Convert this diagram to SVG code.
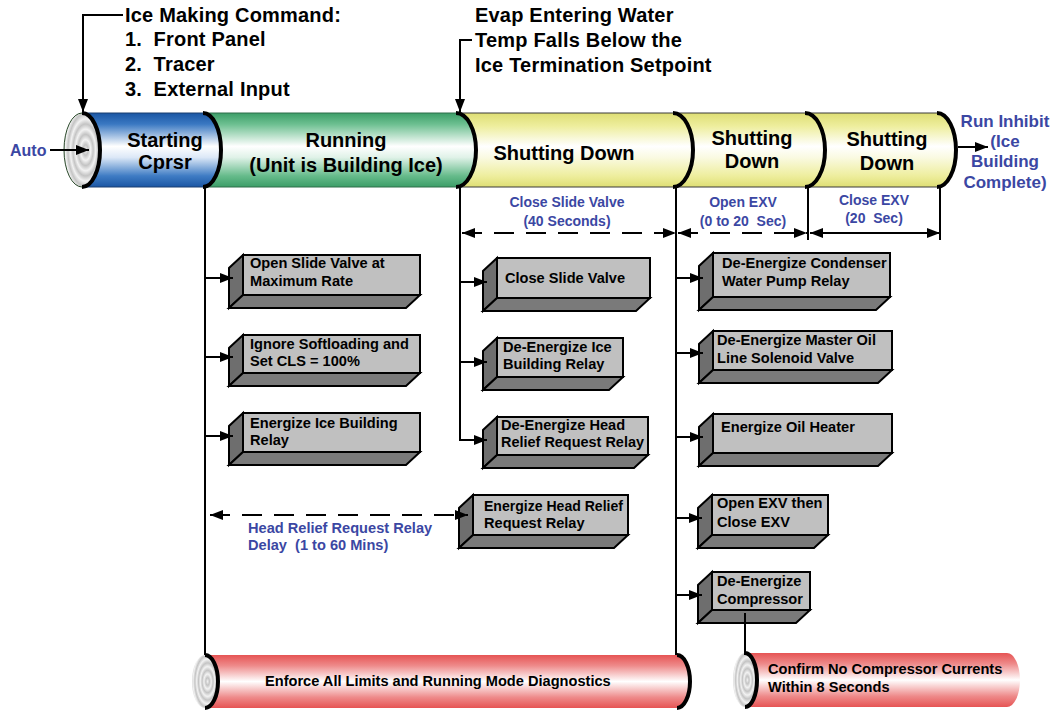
<svg xmlns="http://www.w3.org/2000/svg" width="1055" height="710" viewBox="0 0 1055 710">
<style>
text{font-family:"Liberation Sans",Arial,sans-serif;font-weight:bold;fill:#000;white-space:pre}
.hdr{font-size:20px;letter-spacing:0.2px}
.pl{font-size:20px;text-anchor:middle}
.bt{font-size:14.6px}
.blue{fill:#3b47a3}
.bl{font-size:14px;fill:#3b47a3;text-anchor:middle}
.front{fill:#c0c0c0;stroke:#000;stroke-width:2}
.side{fill:#6e6e6e;stroke:#000;stroke-width:2;stroke-linejoin:miter}
.bot{fill:#7a7a7a;stroke:#000;stroke-width:2;stroke-linejoin:miter}
.ln{fill:none;stroke:#000;stroke-width:2}
.ar{fill:none;stroke:#000;stroke-width:2;marker-end:url(#ah)}
.dd{fill:none;stroke:#000;stroke-width:2;stroke-dasharray:20 12;marker-start:url(#ah);marker-end:url(#ah)}
.sd{fill:none;stroke:#000;stroke-width:2;marker-start:url(#ah);marker-end:url(#ah)}
.arc{fill:none;stroke:#000;stroke-width:4}
.edge{stroke:#3a3a3a;stroke-width:1}
</style>
<defs>
<marker id="ah" markerUnits="userSpaceOnUse" markerWidth="14" markerHeight="10" refX="13" refY="5" orient="auto-start-reverse">
<path d="M0,0 L13,5 L0,10 z" fill="#000"/>
</marker>
<linearGradient id="gBlue" x1="0" y1="0" x2="0" y2="1">
<stop offset="0" stop-color="#1a56a4"/><stop offset="0.15" stop-color="#3a78c2"/><stop offset="0.45" stop-color="#ffffff"/><stop offset="0.6" stop-color="#dce8f7"/><stop offset="0.85" stop-color="#3f7cc4"/><stop offset="1" stop-color="#1a56a4"/>
</linearGradient>
<linearGradient id="gGreen" x1="0" y1="0" x2="0" y2="1">
<stop offset="0" stop-color="#3c9e68"/><stop offset="0.15" stop-color="#6cbf90"/><stop offset="0.45" stop-color="#ffffff"/><stop offset="0.6" stop-color="#e0f2e8"/><stop offset="0.85" stop-color="#66bb8b"/><stop offset="1" stop-color="#3c9e68"/>
</linearGradient>
<linearGradient id="gYel" x1="0" y1="0" x2="0" y2="1">
<stop offset="0" stop-color="#dede74"/><stop offset="0.18" stop-color="#eeee9e"/><stop offset="0.45" stop-color="#ffffff"/><stop offset="0.6" stop-color="#fafae2"/><stop offset="0.85" stop-color="#eeee9e"/><stop offset="1" stop-color="#dede74"/>
</linearGradient>
<linearGradient id="gRed" x1="0" y1="0" x2="0" y2="1">
<stop offset="0" stop-color="#e65454"/><stop offset="0.2" stop-color="#ee8a8a"/><stop offset="0.5" stop-color="#ffffff"/><stop offset="0.8" stop-color="#ee8a8a"/><stop offset="1" stop-color="#e65454"/>
</linearGradient>
<radialGradient id="gCap" cx="0.6" cy="0.5" r="0.14" spreadMethod="repeat">
<stop offset="0" stop-color="#f2f2f2"/><stop offset="0.5" stop-color="#c4c4c4"/><stop offset="1" stop-color="#f2f2f2"/>
</radialGradient>
</defs>
<rect width="1055" height="710" fill="#fff"/>

<!-- top labels -->
<g id="lbl-ice-cmd">
<text class="hdr" x="125" y="22">Ice Making Command:</text>
<text class="hdr" x="125" y="46">1.  Front Panel</text>
<text class="hdr" x="125" y="71">2.  Tracer</text>
<text class="hdr" x="125" y="96">3.  External Input</text>
</g>
<g id="lbl-evap">
<text class="hdr" x="475" y="22">Evap Entering Water</text>
<text class="hdr" x="475" y="47">Temp Falls Below the</text>
<text class="hdr" x="475" y="72">Ice Termination Setpoint</text>
</g>
<g id="lbl-auto"><text x="10" y="156" font-size="16" class="blue">Auto</text></g>
<g id="lbl-runinhibit" font-size="17" text-anchor="middle">
<text class="blue" x="1005" y="127">Run Inhibit</text>
<text class="blue" x="1005" y="147">(Ice</text>
<text class="blue" x="1005" y="167">Building</text>
<text class="blue" x="1005" y="188">Complete)</text>
</g>

<!-- main pipe, drawn right to left -->
<g id="pipe-shut3">
<path d="M805,113 H937 A19,37 0 0 1 937,187 H805 Z" fill="url(#gYel)"/>
<path class="edge" d="M805,113 H937 M805,187 H937"/>
<path class="arc" d="M937,113 A19,37 0 0 1 937,187"/>
<text class="pl" x="887" y="146">Shutting</text>
<text class="pl" x="887" y="170">Down</text>
</g>
<g id="pipe-shut2">
<path d="M673,113 H805 A20,37 0 0 1 805,187 H673 Z" fill="url(#gYel)"/>
<path class="edge" d="M673,113 H805 M673,187 H805"/>
<path class="arc" d="M805,113 A20,37 0 0 1 805,187"/>
<text class="pl" x="752" y="145">Shutting</text>
<text class="pl" x="752" y="168">Down</text>
</g>
<g id="pipe-shut1">
<path d="M456,113 H673 A20,37 0 0 1 673,187 H456 Z" fill="url(#gYel)"/>
<path class="edge" d="M456,113 H673 M456,187 H673"/>
<path class="arc" d="M673,113 A20,37 0 0 1 673,187"/>
<text class="pl" x="564" y="160">Shutting Down</text>
</g>
<g id="pipe-running">
<path d="M203,113 H456 A20,37 0 0 1 456,187 H203 Z" fill="url(#gGreen)"/>
<path d="M203,113 H456 M203,187 H456" stroke="#2e6e4a" stroke-width="1"/>
<path class="arc" d="M456,113 A20,37 0 0 1 456,187"/>
<text class="pl" x="346" y="147">Running</text>
<text class="pl" x="346" y="172">(Unit is Building Ice)</text>
</g>
<g id="pipe-starting">
<path d="M82,113 H203 A18,37 0 0 1 203,187 H82 Z" fill="url(#gBlue)"/>
<path d="M82,113 H203 M82,187 H203" stroke="#1a3f70" stroke-width="1"/>
<path class="arc" d="M203,113 A18,37 0 0 1 203,187"/>
<text class="pl" x="165" y="147">Starting</text>
<text class="pl" x="165" y="169">Cprsr</text>
</g>
<g id="pipe-cap">
<ellipse cx="82" cy="150" rx="18" ry="37" fill="url(#gCap)" stroke="#2b4a2b" stroke-width="1"/>
<path class="arc" d="M82,113 A18,37 0 0 1 82,187"/>
</g>

<!-- bottom pipes -->
<g id="pipe-enforce">
<path d="M205,655 H677 A13,26.5 0 0 1 677,708 H205 Z" fill="url(#gRed)"/>
<path class="arc" d="M677,655 A13,26.5 0 0 1 677,708" stroke-width="3"/>
<ellipse cx="205" cy="681.5" rx="13" ry="26.5" fill="url(#gCap)"/>
<path class="arc" d="M205,655 A13,26.5 0 0 1 205,708" stroke-width="3"/>
<text class="bt" x="265" y="686">Enforce All Limits and Running Mode Diagnostics</text>
</g>
<g id="pipe-confirm">
<path d="M745,653 H1007 A13,27 0 0 1 1007,707 H745 Z" fill="url(#gRed)"/>
<ellipse cx="745" cy="680" rx="12" ry="27" fill="url(#gCap)"/>
<path class="arc" d="M745,653 A12,27 0 0 1 745,707" stroke-width="3"/>
<text class="bt" x="768" y="674">Confirm No Compressor Currents</text>
<text class="bt" x="768" y="692">Within 8 Seconds</text>
</g>

<!-- boxes -->
<g id="box-open-slide">
<path class="side" d="M243,255 L229,268 L229,308 L243,295 Z"/>
<path class="bot" d="M243,295 L229,308 L406,308 L420,295 Z"/>
<rect class="front" x="243" y="255" width="177" height="40"/>
<text class="bt" x="250" y="268">Open Slide Valve at</text>
<text class="bt" x="250" y="286">Maximum Rate</text>
</g>
<g id="box-ignore-soft">
<path class="side" d="M243,335 L229,348 L229,386 L243,373 Z"/>
<path class="bot" d="M243,373 L229,386 L406,386 L420,373 Z"/>
<rect class="front" x="243" y="335" width="177" height="38"/>
<text class="bt" x="250" y="349">Ignore Softloading and</text>
<text class="bt" x="250" y="366">Set CLS = 100%</text>
</g>
<g id="box-energize-ice">
<path class="side" d="M243,413 L229,426 L229,465 L243,452 Z"/>
<path class="bot" d="M243,452 L229,465 L406,465 L420,452 Z"/>
<rect class="front" x="243" y="413" width="177" height="39"/>
<text class="bt" x="250" y="428">Energize Ice Building</text>
<text class="bt" x="250" y="445">Relay</text>
</g>
<g id="box-close-slide">
<path class="side" d="M497,258 L483,271 L483,311 L497,298 Z"/>
<path class="bot" d="M497,298 L483,311 L636,311 L650,298 Z"/>
<rect class="front" x="497" y="258" width="153" height="40"/>
<text class="bt" x="505" y="283">Close Slide Valve</text>
</g>
<g id="box-deenergize-ice">
<path class="side" d="M497,338 L483,351 L483,390 L497,377 Z"/>
<path class="bot" d="M497,377 L483,390 L609,390 L623,377 Z"/>
<rect class="front" x="497" y="338" width="126" height="39"/>
<text class="bt" x="503" y="352">De-Energize Ice</text>
<text class="bt" x="503" y="369">Building Relay</text>
</g>
<g id="box-deenergize-head">
<path class="side" d="M497,417 L483,430 L483,468 L497,455 Z"/>
<path class="bot" d="M497,455 L483,468 L634,468 L648,455 Z"/>
<rect class="front" x="497" y="417" width="151" height="38"/>
<text class="bt" x="501" y="430">De-Energize Head</text>
<text class="bt" x="501" y="447" textLength="143" lengthAdjust="spacingAndGlyphs">Relief Request Relay</text>
</g>
<g id="box-energize-head">
<path class="side" d="M473,495 L459,508 L459,548 L473,535 Z"/>
<path class="bot" d="M473,535 L459,548 L614,548 L628,535 Z"/>
<rect class="front" x="473" y="495" width="155" height="40"/>
<text class="bt" x="484" y="511" textLength="139" lengthAdjust="spacingAndGlyphs">Energize Head Relief</text>
<text class="bt" x="484" y="528">Request Relay</text>
</g>
<g id="box-deenergize-cond">
<path class="side" d="M713,253 L699,266 L699,310 L713,297 Z"/>
<path class="bot" d="M713,297 L699,310 L876,310 L890,297 Z"/>
<rect class="front" x="713" y="253" width="177" height="44"/>
<text class="bt" x="722" y="268">De-Energize Condenser</text>
<text class="bt" x="722" y="286">Water Pump Relay</text>
</g>
<g id="box-deenergize-oil">
<path class="side" d="M713,331 L699,344 L699,383 L713,370 Z"/>
<path class="bot" d="M713,370 L699,383 L878,383 L892,370 Z"/>
<rect class="front" x="713" y="331" width="179" height="39"/>
<text class="bt" x="717" y="345">De-Energize Master Oil</text>
<text class="bt" x="717" y="363">Line Solenoid Valve</text>
</g>
<g id="box-oil-heater">
<path class="side" d="M713,414 L699,427 L699,466 L713,453 Z"/>
<path class="bot" d="M713,453 L699,466 L878,466 L892,453 Z"/>
<rect class="front" x="713" y="414" width="179" height="39"/>
<text class="bt" x="721" y="432">Energize Oil Heater</text>
</g>
<g id="box-open-exv">
<path class="side" d="M712,495 L698,508 L698,548 L712,535 Z"/>
<path class="bot" d="M712,535 L698,548 L814,548 L828,535 Z"/>
<rect class="front" x="712" y="495" width="116" height="40"/>
<text class="bt" x="717" y="508">Open EXV then</text>
<text class="bt" x="717" y="527">Close EXV</text>
</g>
<g id="box-deenergize-comp">
<path class="side" d="M712,572 L698,585 L698,623 L712,610 Z"/>
<path class="bot" d="M712,610 L698,623 L796,623 L810,610 Z"/>
<rect class="front" x="712" y="572" width="98" height="38"/>
<text class="bt" x="717" y="586">De-Energize</text>
<text class="bt" x="717" y="604">Compressor</text>
</g>

<!-- dimension labels -->
<g id="dim-labels">
<text class="bl" x="567" y="207">Close Slide Valve</text>
<text class="bl" x="567" y="226">(40 Seconds)</text>
<text class="bl" x="743" y="207">Open EXV</text>
<text class="bl" x="743" y="226">(0 to 20  Sec)</text>
<text class="bl" x="874" y="205">Close EXV</text>
<text class="bl" x="874" y="223">(20  Sec)</text>
<text class="bt blue" x="248" y="533">Head Relief Request Relay</text>
<text class="bt blue" x="248" y="550">Delay  (1 to 60 Mins)</text>
</g>

<!-- connectors -->
<g id="connectors">
<path class="ar" d="M123,15 H83 V112"/>
<path class="ar" d="M472,40 H460 V112"/>
<path class="ar" d="M50,150 H89"/>
<path class="ar" d="M958,147 H988"/>
<path class="ln" d="M205,187 V655"/>
<path class="ln" d="M676,187 V655"/>
<path class="ln" d="M808,187 V240"/>
<path class="ln" d="M940,187 V240"/>
<path class="ar" d="M460,187 V440 H487"/>
<path class="ar" d="M205,278 H233"/>
<path class="ar" d="M205,357 H233"/>
<path class="ar" d="M205,436 H233"/>
<path class="ar" d="M460,282 H487"/>
<path class="ar" d="M460,362 H487"/>
<path class="ar" d="M676,278 H703"/>
<path class="ar" d="M676,353 H703"/>
<path class="ar" d="M676,437 H703"/>
<path class="ar" d="M676,518 H702"/>
<path class="ar" d="M676,595 H702"/>
<path class="dd" d="M462,233 H676"/>
<path class="dd" d="M678,233 H807"/>
<path class="sd" d="M810,233 H940"/>
<path class="dd" d="M210,515 H468"/>
<path class="ln" d="M745,613 V655"/>
</g>
</svg>
